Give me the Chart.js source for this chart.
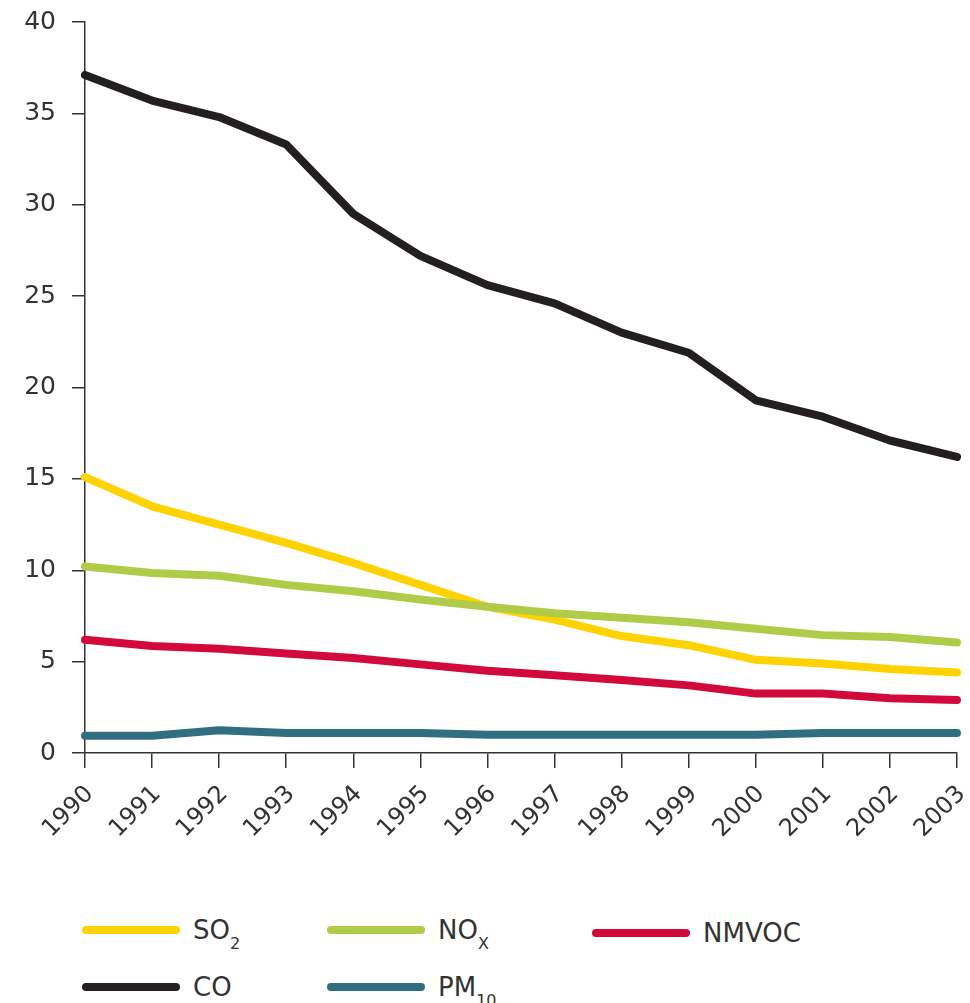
<!DOCTYPE html>
<html>
<head>
<meta charset="utf-8">
<script src="https://cdn.jsdelivr.net/npm/chart.js@4.4.1/dist/chart.umd.min.js"></script>
<style>
  body { margin: 0; background: #fff; font-family: "DejaVu Sans", Verdana, sans-serif; }
  #wrap { position: relative; width: 970px; height: 1003px; }
  #chart-box { position: absolute; left: 0; top: 0; width: 970px; height: 880px; }
  .legend-item { position: absolute; display: flex; align-items: center; font-size: 26px; color: #333; line-height: 30px; }
  .legend-item .swatch { width: 98px; height: 8px; border-radius: 4px; margin-right: 13px; }
  .legend-item sub { font-size: 16px; vertical-align: -10px; line-height: 0; }
</style>
</head>
<body>
<div id="wrap">
  <div id="chart-box"><canvas id="emissions-chart"></canvas></div>
  <div id="legend"></div>
</div>
<script>
'use strict';

// Years and emission series
const years = ['1990', '1991', '1992', '1993', '1994', '1995', '1996',
               '1997', '1998', '1999', '2000', '2001', '2002', '2003'];

const so2   = [15.1, 13.5, 12.5, 11.5, 10.4, 9.2, 8.0, 7.3, 6.4, 5.9, 5.1, 4.9, 4.6, 4.4];
const nox   = [10.2, 9.85, 9.7, 9.2, 8.85, 8.4, 8.0, 7.65, 7.4, 7.15, 6.8, 6.45, 6.35, 6.05];
const nmvoc = [6.2, 5.85, 5.7, 5.45, 5.2, 4.85, 4.5, 4.25, 4.0, 3.7, 3.25, 3.25, 3.0, 2.9];
const co    = [37.1, 35.7, 34.8, 33.3, 29.5, 27.2, 25.6, 24.6, 23.0, 21.9, 19.3, 18.4, 17.1, 16.2];
const pm10  = [0.95, 0.95, 1.25, 1.1, 1.1, 1.1, 1.0, 1.0, 1.0, 1.0, 1.0, 1.1, 1.1, 1.1];

const yTicks = [0, 5, 10, 15, 20, 25, 30, 35, 40];

const seriesInfo = [
    { label: 'SO<sub>2</sub>', name: 'SO2',   data: so2,   color: '#FFD200' },
    { label: 'NO<sub>X</sub>', name: 'NOx',   data: nox,   color: '#AFCB48' },
    { label: 'NMVOC',          name: 'NMVOC', data: nmvoc, color: '#D20A3C' },
    { label: 'CO',             name: 'CO',    data: co,    color: '#231F20' },
    { label: 'PM<sub>10</sub>',name: 'PM10',  data: pm10,  color: '#2F6F80' }
];

const axisColor = '#333333';

new Chart(document.getElementById('emissions-chart'), {
    type: 'line',
    data: {
        labels: years,
        datasets: seriesInfo.map(function(s) {
            return {
                label: s.name,
                data: s.data,
                borderColor: s.color,
                backgroundColor: s.color,
                borderWidth: 8,
                borderCapStyle: 'round',
                borderJoinStyle: 'round',
                pointRadius: 0,
                tension: 0
            };
        }).reverse()
    },
    options: {
        responsive: true,
        maintainAspectRatio: false,
        animation: false,
        layout: { padding: { top: 22, right: 13, left: 0, bottom: 0 } },
        plugins: {
            legend: { display: false },
            tooltip: { enabled: false }
        },
        scales: {
            x: {
                offset: false,
                border: { color: axisColor, width: 1.5 },
                grid: { drawOnChartArea: false, tickLength: 15, color: axisColor, lineWidth: 1.5 },
                ticks: {
                    minRotation: 45,
                    maxRotation: 45,
                    padding: 12,
                    labelOffset: 5,
                    color: '#333',
                    font: { family: 'DejaVu Sans', size: 24 }
                },
                afterFit: function(scale) {
                    scale.height = 880 - 753;
                    scale.paddingLeft = 0;
                    scale.paddingRight = 0;
                }
            },
            y: {
                min: 0,
                max: 40,
                afterBuildTicks: function(scale) {
                    scale.ticks = yTicks.map(function(v) { return { value: v }; });
                },
                border: { color: axisColor, width: 1.5 },
                grid: { drawOnChartArea: false, tickLength: 13, color: axisColor, lineWidth: 1.5 },
                ticks: {
                    padding: 16,
                    color: '#333',
                    font: { family: 'DejaVu Sans', size: 25 }
                },
                afterFit: function(scale) {
                    scale.width = 85;
                    scale.paddingTop = 0;
                    scale.paddingBottom = 0;
                }
            }
        }
    }
});

// Legend with subscripts, laid out like the reference
const legendPos = [
    { left: 82,  top: 915 },
    { left: 327, top: 915 },
    { left: 592, top: 918 },
    { left: 82,  top: 972 },
    { left: 327, top: 972 }
];
const legend = document.getElementById('legend');
seriesInfo.forEach(function(s, i) {
    const item = document.createElement('div');
    item.className = 'legend-item';
    item.style.left = legendPos[i].left + 'px';
    item.style.top = legendPos[i].top + 'px';
    item.innerHTML = '<span class="swatch" style="background:' + s.color + '"></span><span>' + s.label + '</span>';
    legend.appendChild(item);
});
</script>
</body>
</html>
